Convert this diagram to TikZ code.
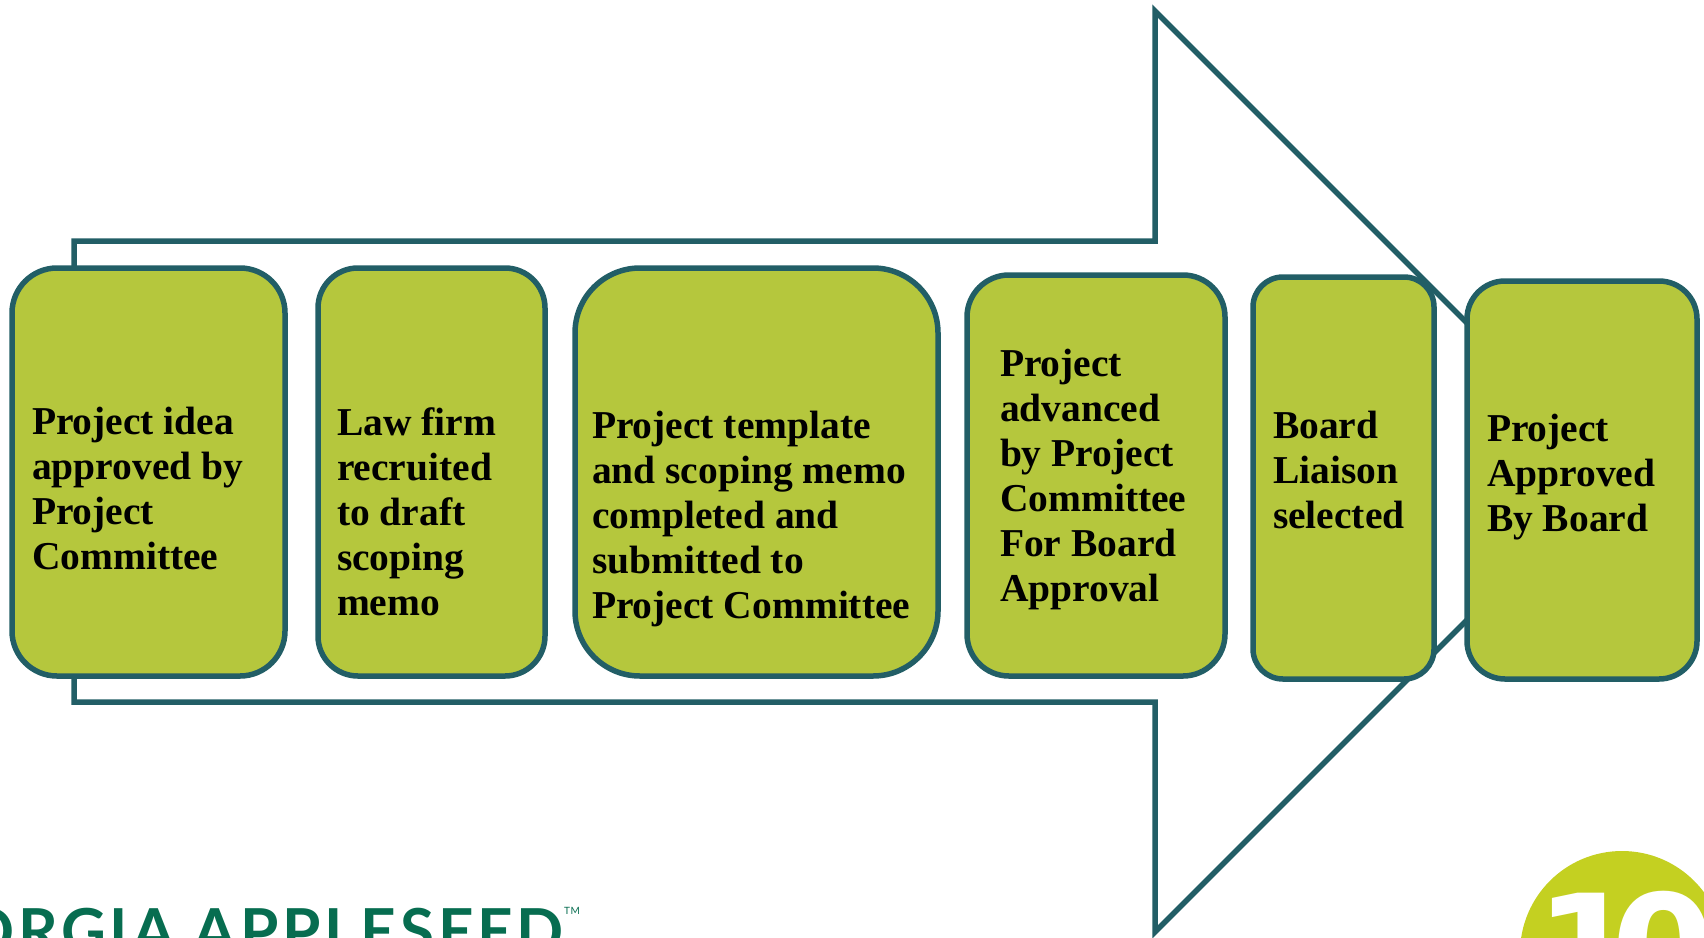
\documentclass[tikz,border=0pt]{standalone}
\usepackage{fontspec}
\setmainfont{Liberation Serif}
\newfontfamily\logofont[LetterSpace=6]{Lato}
\newfontfamily\numfont{DejaVu Sans}
\definecolor{tealline}{HTML}{225E66}
\definecolor{boxgreen}{HTML}{B5C73D}
\definecolor{logogreen}{HTML}{076D50}
\definecolor{badgegreen}{HTML}{C4D021}
\tikzset{
  stagebox/.style={draw=tealline,fill=boxgreen,line width=5.5pt,inner sep=0pt,outer sep=0pt},
  stagetext/.style={anchor=north west,inner sep=0pt,outer sep=0pt,align=left,text=black,
    font=\fontsize{39.5}{45}\selectfont\bfseries},
  bigarrow/.style={draw=tealline,fill=white,line width=5.5pt,line join=miter}
}
\begin{document}
\begin{tikzpicture}[x=1pt,y=-1pt]
\useasboundingbox (0,0) rectangle (1704,937);
\clip (0,0) rectangle (1704,937);
% big outline arrow
\coordinate (tl) at (74,241);
\coordinate (sh1) at (1155,241);
\coordinate (ht) at (1155,11);
\coordinate (tip) at (1615.5,471.5);
\coordinate (hb) at (1155,932);
\coordinate (sh2) at (1155,702);
\coordinate (bl) at (74,702);
\path[bigarrow] (tl) -- (sh1) -- (ht) -- (tip) -- (hb) -- (sh2) -- (bl) -- cycle;
% stages
\node[stagebox,rounded corners=45pt,minimum width=273pt,minimum height=408pt] (b1) at (148.5,472) {};
\node[stagebox,rounded corners=40pt,minimum width=227pt,minimum height=408pt] (b2) at (431.5,472) {};
\node[stagebox,rounded corners=65pt,minimum width=363pt,minimum height=408pt] (b3) at (756.5,472) {};
\node[stagebox,rounded corners=42pt,minimum width=258pt,minimum height=401pt] (b4) at (1096,475.5) {};
\node[stagebox,rounded corners=30pt,minimum width=181pt,minimum height=402pt] (b5) at (1343.5,478) {};
\node[stagebox,rounded corners=38pt,minimum width=230pt,minimum height=398pt] (b6) at (1582,480) {};
\node[stagetext] (t1) at (32,407.5) {Project idea\\approved by\\Project\\Committee};
\node[stagetext] (t2) at (337,407.5) {Law firm\\recruited\\to draft\\scoping\\memo};
\node[stagetext] (t3) at (592,411) {Project template\\and scoping memo\\completed and\\submitted to\\Project Committee};
\node[stagetext] (t4) at (1000,349.5) {Project\\advanced\\by Project\\Committee\\For Board\\Approval};
\node[stagetext] (t5) at (1273,411.5) {Board\\Liaison\\selected};
\node[stagetext] (t6) at (1487,414) {Project\\Approved\\By Board};
% logo, cut by the picture edge
\node[anchor=base east,inner sep=0pt,text=logogreen,font=\fontsize{62}{62}\selectfont\logofont\bfseries] (logo) at (564,953) {ORGIA APPLESEED};
\node[anchor=north west,inner sep=0pt,text=logogreen,font=\fontsize{10}{10}\selectfont\logofont] (tm) at (564,907) {TM};
% badge
\fill[badgegreen] (1622,953) circle (102);
\node[anchor=base west,inner sep=0pt,text=white,font=\fontsize{150}{150}\selectfont\numfont\bfseries] (ten) at (1535,1002) {1\kern-28pt 0};
\end{tikzpicture}
\end{document}
